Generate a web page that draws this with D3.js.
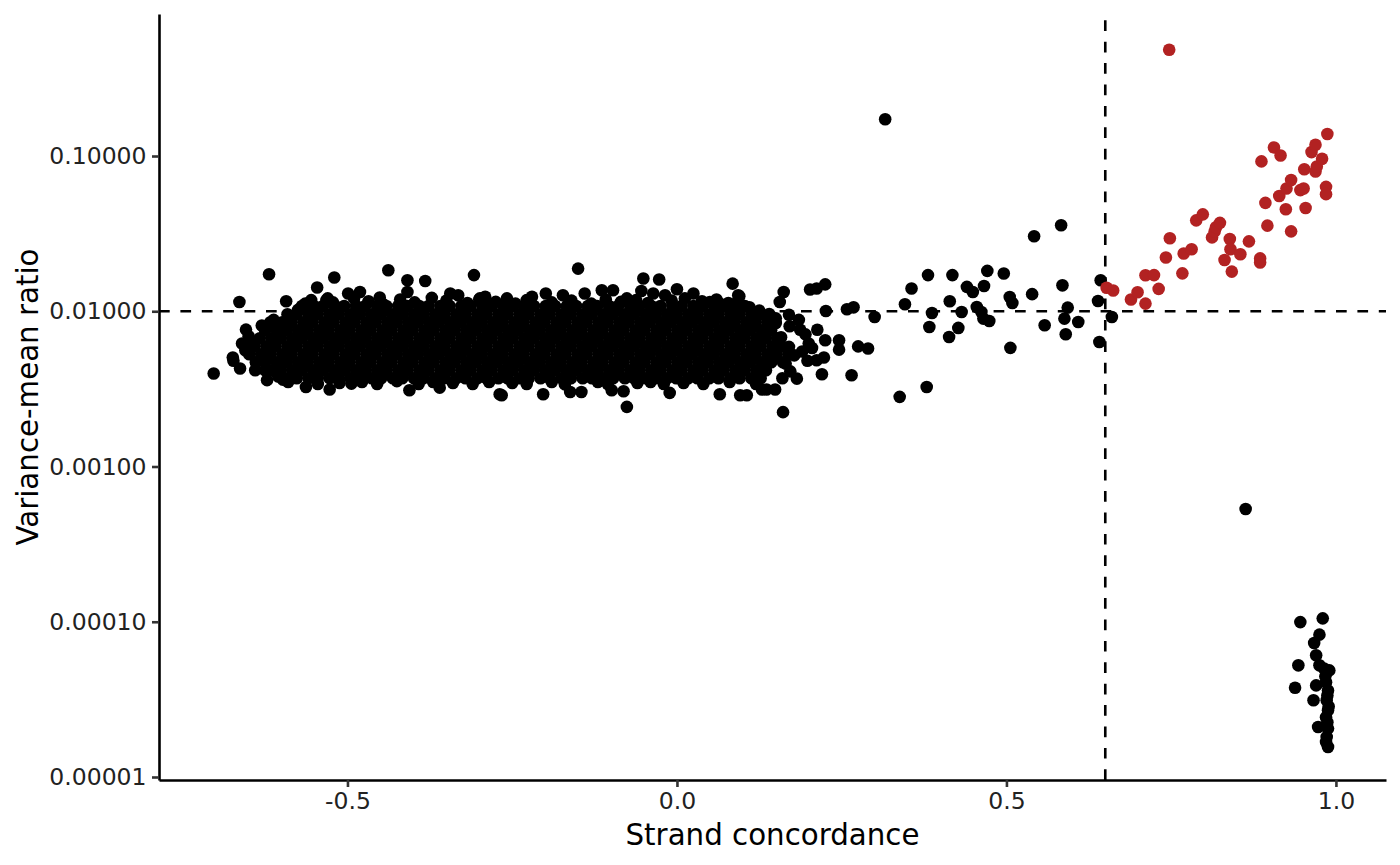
<!DOCTYPE html>
<html><head><meta charset="utf-8">
<script src="https://cdn.jsdelivr.net/npm/d3@7"></script>
<style>body{margin:0;background:#fff}svg{display:block}</style>
</head><body>
<svg id="chart" width="1400" height="865"></svg>
<script>
// ---------------- data ----------------
const xTicks = [-0.5, 0.0, 0.5, 1.0];
const yTicks = [0.00001, 0.0001, 0.001, 0.01, 0.1];
const xTitle = "Strand concordance";
const yTitle = "Variance-mean ratio";
const concordanceCut = 0.65;
const ratioCut = 0.01;

// dense cloud, read row by row (variance-mean ratio level, concordance values)
const cloudRowY = [0.0108, 0.00957, 0.0085, 0.00754, 0.0067, 0.00595, 0.00528, 0.00469, 0.00417, 0.0037];
const cloudRowX = [
 [-0.569,-0.551,-0.537,-0.519,-0.505,-0.487,-0.473,-0.455,-0.441,-0.423,-0.409,-0.391,-0.377,-0.359,-0.345,-0.327,-0.313,-0.295,-0.281,-0.263,-0.249,-0.231,-0.217,-0.199,-0.185,-0.167,-0.153,-0.135,-0.121,-0.103,-0.089,-0.071,-0.057,-0.039,-0.025,-0.007,0.007,0.025,0.039,0.057,0.071,0.089,0.103],
 [-0.591,-0.577,-0.559,-0.545,-0.527,-0.513,-0.495,-0.481,-0.463,-0.449,-0.431,-0.417,-0.399,-0.385,-0.367,-0.353,-0.335,-0.321,-0.303,-0.289,-0.271,-0.257,-0.239,-0.225,-0.207,-0.193,-0.175,-0.161,-0.143,-0.129,-0.111,-0.097,-0.079,-0.065,-0.047,-0.033,-0.015,-0.001,0.017,0.031,0.049,0.063,0.081,0.095,0.113,0.127],
 [-0.617,-0.599,-0.585,-0.567,-0.553,-0.535,-0.521,-0.503,-0.489,-0.471,-0.457,-0.439,-0.425,-0.407,-0.393,-0.375,-0.361,-0.343,-0.329,-0.311,-0.297,-0.279,-0.265,-0.247,-0.233,-0.215,-0.201,-0.183,-0.169,-0.151,-0.137,-0.119,-0.105,-0.087,-0.073,-0.055,-0.041,-0.023,-0.009,0.009,0.023,0.041,0.055,0.073,0.087,0.105,0.119,0.137],
 [-0.625,-0.607,-0.593,-0.575,-0.561,-0.543,-0.529,-0.511,-0.497,-0.479,-0.465,-0.447,-0.433,-0.415,-0.401,-0.383,-0.369,-0.351,-0.337,-0.319,-0.305,-0.287,-0.273,-0.255,-0.241,-0.223,-0.209,-0.191,-0.177,-0.159,-0.145,-0.127,-0.113,-0.095,-0.081,-0.063,-0.049,-0.031,-0.017,0.001,0.015,0.033,0.047,0.065,0.079,0.097,0.111,0.129,0.143],
 [-0.633,-0.615,-0.601,-0.583,-0.569,-0.551,-0.537,-0.519,-0.505,-0.487,-0.473,-0.455,-0.441,-0.423,-0.409,-0.391,-0.377,-0.359,-0.345,-0.327,-0.313,-0.295,-0.281,-0.263,-0.249,-0.231,-0.217,-0.199,-0.185,-0.167,-0.153,-0.135,-0.121,-0.103,-0.089,-0.071,-0.057,-0.039,-0.025,-0.007,0.007,0.025,0.039,0.057,0.071,0.089,0.103,0.121,0.135,0.153],
 [-0.641,-0.623,-0.609,-0.591,-0.577,-0.559,-0.545,-0.527,-0.513,-0.495,-0.481,-0.463,-0.449,-0.431,-0.417,-0.399,-0.385,-0.367,-0.353,-0.335,-0.321,-0.303,-0.289,-0.271,-0.257,-0.239,-0.225,-0.207,-0.193,-0.175,-0.161,-0.143,-0.129,-0.111,-0.097,-0.079,-0.065,-0.047,-0.033,-0.015,-0.001,0.017,0.031,0.049,0.063,0.081,0.095,0.113,0.127,0.145,0.159],
 [-0.649,-0.631,-0.617,-0.599,-0.585,-0.567,-0.553,-0.535,-0.521,-0.503,-0.489,-0.471,-0.457,-0.439,-0.425,-0.407,-0.393,-0.375,-0.361,-0.343,-0.329,-0.311,-0.297,-0.279,-0.265,-0.247,-0.233,-0.215,-0.201,-0.183,-0.169,-0.151,-0.137,-0.119,-0.105,-0.087,-0.073,-0.055,-0.041,-0.023,-0.009,0.009,0.023,0.041,0.055,0.073,0.087,0.105,0.119,0.137,0.151,0.169],
 [-0.639,-0.625,-0.607,-0.593,-0.575,-0.561,-0.543,-0.529,-0.511,-0.497,-0.479,-0.465,-0.447,-0.433,-0.415,-0.401,-0.383,-0.369,-0.351,-0.337,-0.319,-0.305,-0.287,-0.273,-0.255,-0.241,-0.223,-0.209,-0.191,-0.177,-0.159,-0.145,-0.127,-0.113,-0.095,-0.081,-0.063,-0.049,-0.031,-0.017,0.001,0.015,0.033,0.047,0.065,0.079,0.097,0.111,0.129,0.143,0.161],
 [-0.615,-0.601,-0.583,-0.569,-0.551,-0.537,-0.519,-0.505,-0.487,-0.473,-0.455,-0.441,-0.423,-0.409,-0.391,-0.377,-0.359,-0.345,-0.327,-0.313,-0.295,-0.281,-0.263,-0.249,-0.231,-0.217,-0.199,-0.185,-0.167,-0.153,-0.135,-0.121,-0.103,-0.089,-0.071,-0.057,-0.039,-0.025,-0.007,0.007,0.025,0.039,0.057,0.071,0.089,0.103,0.121,0.135],
 [-0.591,-0.577,-0.559,-0.545,-0.527,-0.513,-0.495,-0.481,-0.463,-0.449,-0.431,-0.417,-0.399,-0.385,-0.367,-0.353,-0.335,-0.321,-0.303,-0.289,-0.271,-0.257,-0.239,-0.225,-0.207,-0.193,-0.175,-0.161,-0.143,-0.129,-0.111,-0.097,-0.079,-0.065,-0.047,-0.033,-0.015,-0.001,0.017,0.031,0.049,0.063,0.081,0.095,0.113,0.127]
];

// ragged upper and lower fringe of the cloud
const fringeX = [
 -0.555,-0.522,-0.490,-0.468,-0.447,-0.420,-0.398,-0.372,-0.350,-0.318,-0.300,-0.275,-0.245,-0.228,-0.190,-0.160,-0.130,-0.108,-0.085,-0.062,-0.044,-0.008,0.012,0.038,0.060,0.078,0.110,0.125,0.140,0.150,
 -0.590,-0.545,-0.512,-0.478,-0.455,-0.425,-0.392,-0.370,-0.340,-0.310,-0.285,-0.250,-0.228,-0.190,-0.170,-0.120,-0.105,-0.060,-0.040,-0.020,0.010,0.040,0.080,0.120,0.160,
 -0.655,-0.660,-0.650,-0.630,-0.612,-0.605,-0.622,0.150,0.158,0.170,0.165,0.178,0.172
];
const fringeY = [
 0.0118,0.0114,0.0121,0.0116,0.0112,0.0119,0.0114,0.0122,0.0117,0.0113,0.0119,0.0115,0.0112,0.0118,0.0114,0.0117,0.0112,0.0119,0.0115,0.0118,0.0113,0.0117,0.0121,0.0116,0.0119,0.0113,0.0106,0.0101,0.0096,0.0090,
 0.0035,0.0034,0.00345,0.0035,0.0034,0.00355,0.0034,0.0035,0.00345,0.0034,0.0035,0.00345,0.0034,0.0035,0.00338,0.0035,0.0034,0.00345,0.0035,0.0034,0.00345,0.0034,0.0035,0.0034,0.0037,
 0.0056,0.0062,0.0069,0.0081,0.0088,0.0038,0.0036,0.0084,0.0068,0.0059,0.0046,0.0052,0.0041
];

// individual black points (concordance, variance-mean ratio)
const otherX = [
 -0.703,-0.664,-0.619,-0.654,-0.648,-0.674,-0.663,-0.673,-0.640,-0.625,-0.593,-0.546,-0.520,-0.438,-0.409,-0.382,-0.308,-0.409,-0.481,-0.499,-0.532,-0.530,-0.564,-0.585,-0.575,-0.451,-0.344,-0.332,-0.291,-0.527,-0.563,-0.598,-0.406,-0.494,-0.360,-0.269,
 -0.150,-0.051,-0.027,-0.076,-0.266,-0.203,-0.162,-0.145,-0.099,-0.081,-0.011,0.065,0.096,0.106,
 -0.258,-0.220,-0.199,-0.173,-0.140,-0.114,-0.097,-0.076,-0.054,-0.036,-0.018,0.000,0.025,0.050,0.065,0.093,-0.299,
 0.0845,0.0946,0.0906,0.162,0.156,0.202,0.212,0.225,0.226,0.258,0.268,0.300,0.171,0.187,0.213,0.225,0.246,0.246,0.275,0.290,0.223,0.212,0.220,0.265,0.182,0.149,0.136,0.129,0.161,0.338,0.379,0.316,
 0.195,0.200,0.190,0.198,0.185,0.170,0.205,
 0.356,0.346,0.381,0.387,0.383,0.414,0.418,0.413,0.427,0.432,0.440,0.449,0.455,0.462,0.465,0.474,0.466,0.471,0.496,0.505,0.509,0.506,0.542,0.539,0.558,0.583,0.585,0.593,0.588,0.590,0.609,0.643,0.639,0.641,0.660,
 0.863,0.946,0.980,0.975,0.967,0.970,0.943,0.975,0.990,0.982,0.938,0.970,0.985,0.988,0.966,0.986,0.988,0.985,0.973,0.988,0.986,0.988,0.985,0.987,0.989,0.987,0.984
];
const otherY = [
 0.00397,0.01148,0.0173,0.00762,0.00634,0.00504,0.00428,0.0048,0.00417,0.00417,0.01159,0.01422,0.0165,0.01836,0.01585,0.01567,0.0171,0.0133,0.0133,0.0130,0.0118,0.0121,0.0112,0.0092,0.0102,0.01225,0.0130,0.01268,0.0124,0.00313,0.00325,0.00363,0.0031,0.00342,0.00322,0.00292,
 0.01883,0.01625,0.0160,0.00242,0.00288,0.00292,0.00302,0.00302,0.0031,0.00305,0.00298,0.00292,0.00288,0.00288,
 0.0121,0.0124,0.0130,0.01268,0.0130,0.01365,0.01365,0.0121,0.0135,0.0130,0.01268,0.01387,0.0130,0.01148,0.0112,0.01268,0.0121,
 0.01506,0.0125,0.0113,0.0133,0.01148,0.0138,0.0140,0.0149,0.01004,0.0103,0.0106,0.00919,0.0080,0.0076,0.0076,0.0065,0.0065,0.00566,0.00594,0.00575,0.00504,0.00483,0.00393,0.00387,0.00368,0.00313,0.00313,0.00313,0.00224,0.00281,0.00325,0.1726,
 0.0071,0.0062,0.0055,0.0048,0.0088,0.0095,0.0058,
 0.0140,0.0111,0.0171,0.00975,0.00792,0.0116,0.0171,0.00683,0.00781,0.0099,0.01436,0.0133,0.01066,0.0099,0.00897,0.00866,0.01455,0.0182,0.0175,0.01236,0.0113,0.00581,0.0304,0.01289,0.00812,0.0358,0.01469,0.01056,0.00897,0.00711,0.00853,0.01585,0.01165,0.00634,0.00919,
 0.000532,0.0000995,0.0001052,0.0000826,0.000073,0.0000608,0.0000524,0.0000524,0.0000486,0.000050,0.0000376,0.0000389,0.0000408,0.0000361,0.0000312,0.0000312,0.0000269,0.0000243,0.000021,0.0000205,0.0000181,0.0000156,0.0000168,0.0000335,0.0000285,0.0000225,0.0000445
];

// highlighted (red) points
const redX = [0.747,0.652,0.662,0.689,0.699,0.711,0.711,0.724,0.731,0.742,0.748,0.767,0.769,0.781,0.788,0.798,0.812,0.816,0.818,0.824,0.831,0.839,0.840,0.842,0.855,0.868,0.885,0.885,0.887,0.893,0.896,0.906,0.916,0.914,0.924,0.925,0.932,0.932,0.946,0.951,0.952,0.954,0.963,0.969,0.969,0.971,0.979,0.985,0.985,0.987];
const redY = [0.484,0.01416,0.01361,0.0119,0.01325,0.0112,0.01706,0.0171,0.01393,0.0222,0.0295,0.01754,0.02355,0.0251,0.0385,0.0421,0.0299,0.0327,0.0348,0.0371,0.0214,0.0292,0.0251,0.0180,0.0233,0.0282,0.0219,0.0206,0.0923,0.0499,0.0356,0.1135,0.1007,0.0553,0.0454,0.0618,0.070,0.0327,0.0603,0.0618,0.0822,0.0462,0.106,0.1183,0.0795,0.0855,0.0959,0.0633,0.0568,0.1387];

// ---------------- drawing ----------------
const svg = d3.select("#chart");
const L = 159, R = 1386, T = 14, B = 780;
const x = d3.scaleLinear().domain([-0.786, 1.076]).range([L, R]);
const y = d3.scaleLog().domain([Math.pow(10, -5.0193), Math.pow(10, -0.0853)]).range([B, T]);
const font = "DejaVu Sans, Liberation Sans, sans-serif";

const blackPts = [];
cloudRowY.forEach((yy, i) => cloudRowX[i].forEach(xx => blackPts.push([xx, yy])));
fringeX.forEach((xx, i) => blackPts.push([xx, fringeY[i]]));
otherX.forEach((xx, i) => blackPts.push([xx, otherY[i]]));
const redPts = redX.map((xx, i) => [xx, redY[i]]);

// reference lines
const dash = "10.7,10.7";
svg.append("line").attr("x1", L).attr("x2", R).attr("y1", y(ratioCut)).attr("y2", y(ratioCut))
  .attr("stroke", "#000").attr("stroke-width", 2.6).attr("stroke-dasharray", dash);
svg.append("line").attr("x1", x(concordanceCut)).attr("x2", x(concordanceCut)).attr("y1", B).attr("y2", T)
  .attr("stroke", "#000").attr("stroke-width", 2.6).attr("stroke-dasharray", dash);

const r = 6.3;
svg.append("g").selectAll("circle").data(blackPts).join("circle")
  .attr("cx", d => x(d[0])).attr("cy", d => y(d[1])).attr("r", r).attr("fill", "#000");
svg.append("g").selectAll("circle").data(redPts).join("circle")
  .attr("cx", d => x(d[0])).attr("cy", d => y(d[1])).attr("r", r).attr("fill", "#B22222");

// axes
const xAxis = d3.axisBottom(x).tickValues(xTicks).tickFormat(d => d3.format(".1f")(d).replace("\u2212", "-"))
  .tickSizeInner(7).tickSizeOuter(0).tickPadding(5.5);
const yAxis = d3.axisLeft(y).tickValues(yTicks).tickFormat(d3.format(".5f"))
  .tickSizeInner(7).tickSizeOuter(0).tickPadding(5.5);

const gx = svg.append("g").attr("transform", `translate(0,${B})`).call(xAxis);
const gy = svg.append("g").attr("transform", `translate(${L},0)`).call(yAxis);
[gx, gy].forEach(g => {
  g.select(".domain").attr("stroke", "#000").attr("stroke-width", 2.6);
  g.selectAll(".tick line").attr("stroke", "#333").attr("stroke-width", 2.6);
  g.selectAll(".tick text").attr("fill", "#222").style("font-family", font).style("font-size", "23.5px");
});

svg.append("text").attr("x", (L + R) / 2).attr("y", 845).attr("text-anchor", "middle")
  .style("font-family", font).style("font-size", "29.3px").attr("fill", "#000").text(xTitle);
svg.append("text").attr("transform", `translate(38,${(T + B) / 2}) rotate(-90)`).attr("text-anchor", "middle")
  .style("font-family", font).style("font-size", "29.3px").attr("fill", "#000").text(yTitle);
</script>
</body></html>
